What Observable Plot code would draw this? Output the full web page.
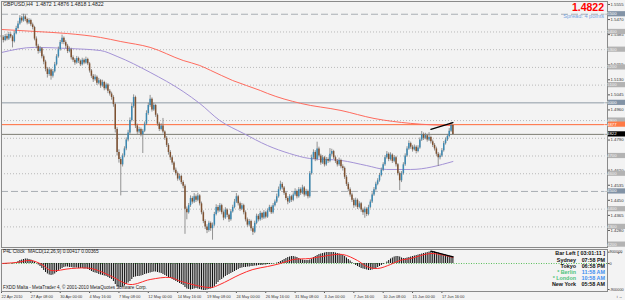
<!DOCTYPE html>
<html><head><meta charset="utf-8">
<script src="https://cdn.jsdelivr.net/npm/d3@7"></script>
<script src="https://cdn.jsdelivr.net/npm/@observablehq/plot@0.6"></script>
<style>
html,body{margin:0;padding:0;background:#f3f3f3;}
#wrap{position:relative;width:625px;height:300px;overflow:hidden;font-family:"Liberation Sans",Arial,sans-serif;}
#main{position:absolute;left:0;top:0;}
#macd{position:absolute;left:0;top:248px;}
.ov{position:absolute;white-space:nowrap;line-height:1;}
</style></head>
<body><div id="wrap">
<div id="main"></div><div id="macd"></div>
<div class="ov" style="left:3px;top:2px;font-size:5.2px;color:#222">GBPUSD,H4&nbsp; 1.4872 1.4876 1.4818 1.4822</div>
<div class="ov" style="right:21px;top:2px;font-size:10.5px;line-height:10.5px;font-weight:bold;color:#ff0000">1.4822</div>
<div class="ov" style="right:21px;top:13.5px;font-size:5.6px;color:#74a4e0">Spread: 4 points</div>
<div class="ov" style="left:3px;top:250px;font-size:4.8px;color:#222">P4L Clock</div>
<div class="ov" style="left:28px;top:250px;font-size:4.8px;color:#222">MACD(12,26,9) 0.00417 0.00365</div>
<div class="ov" style="left:3px;top:285.5px;font-size:4.6px;color:#222">FXDD Malta - MetaTrader 4, © 2001-2010 MetaQuotes Software Corp.</div>
<div id="clock" class="ov" style="right:20px;top:250px;font-size:5.4px;font-weight:bold;text-align:right;line-height:6px"></div>
</div>
<script>
// ---------- DATA ----------
const firstOpen = 1.5380;
const closes = [
1.5368,1.5352,1.5375,1.5360,1.5385,1.5372,1.5345,1.5390,1.5420,1.5445,
1.5478,1.5462,1.5485,1.5470,1.5450,1.5465,1.5440,1.5425,1.5360,1.5320,
1.5290,1.5305,1.5260,1.5230,1.5190,1.5160,1.5185,1.5150,1.5175,1.5215,
1.5260,1.5300,1.5340,1.5365,1.5340,1.5320,1.5290,1.5300,1.5255,1.5240,
1.5225,1.5250,1.5235,1.5215,1.5240,1.5225,1.5245,1.5220,1.5180,1.5150,
1.5130,1.5145,1.5110,1.5125,1.5095,1.5115,1.5080,1.5100,1.5065,1.5050,
1.5030,1.4990,1.4850,1.4720,1.4680,1.4650,1.4700,1.4740,1.4790,1.4830,
1.4900,1.4980,1.5030,1.4870,1.4835,1.4850,1.4820,1.4840,1.4880,1.4940,
1.4985,1.5020,1.4960,1.4985,1.4930,1.4880,1.4850,1.4870,1.4835,1.4800,
1.4760,1.4720,1.4690,1.4660,1.4620,1.4600,1.4570,1.4585,1.4550,1.4530,
1.4400,1.4380,1.4420,1.4460,1.4440,1.4470,1.4450,1.4475,1.4430,1.4380,
1.4330,1.4300,1.4280,1.4320,1.4290,1.4310,1.4370,1.4410,1.4390,1.4420,
1.4380,1.4350,1.4395,1.4365,1.4340,1.4385,1.4410,1.4440,1.4470,1.4430,
1.4400,1.4420,1.4380,1.4340,1.4310,1.4330,1.4290,1.4270,1.4320,1.4360,
1.4340,1.4375,1.4350,1.4380,1.4355,1.4390,1.4410,1.4380,1.4420,1.4440,
1.4470,1.4510,1.4540,1.4520,1.4490,1.4460,1.4440,1.4470,1.4450,1.4480,
1.4500,1.4470,1.4510,1.4490,1.4520,1.4480,1.4500,1.4470,1.4600,1.4690,
1.4720,1.4680,1.4740,1.4700,1.4660,1.4690,1.4650,1.4680,1.4670,1.4710,
1.4725,1.4690,1.4670,1.4650,1.4675,1.4640,1.4630,1.4580,1.4540,1.4510,
1.4480,1.4450,1.4420,1.4450,1.4410,1.4430,1.4395,1.4380,1.4400,1.4370,
1.4410,1.4440,1.4480,1.4510,1.4540,1.4560,1.4590,1.4620,1.4650,1.4690,
1.4710,1.4680,1.4705,1.4670,1.4690,1.4650,1.4600,1.4560,1.4600,1.4650,
1.4700,1.4740,1.4770,1.4750,1.4735,1.4750,1.4725,1.4745,1.4790,1.4820,
1.4800,1.4815,1.4790,1.4805,1.4780,1.4760,1.4740,1.4710,1.4690,1.4700,
1.4730,1.4770,1.4790,1.4810,1.4840,1.4872,1.4822];
const highs = [
1.5392,1.5378,1.5386,1.5388,1.5398,1.5395,1.5380,1.5402,1.5432,1.5460,
1.5492,1.5488,1.5500,1.5496,1.5478,1.5475,1.5472,1.5450,1.5432,1.5372,
1.5330,1.5318,1.5312,1.5270,1.5240,1.5200,1.5198,1.5192,1.5188,1.5228,
1.5272,1.5315,1.5352,1.5382,1.5372,1.5350,1.5330,1.5315,1.5308,1.5265,
1.5250,1.5262,1.5258,1.5242,1.5252,1.5248,1.5258,1.5252,1.5228,1.5188,
1.5160,1.5158,1.5152,1.5138,1.5132,1.5128,1.5122,1.5112,1.5108,1.5075,
1.5060,1.5040,1.4998,1.4860,1.4735,1.4692,1.4712,1.4752,1.4802,1.4845,
1.4915,1.4995,1.5045,1.5038,1.4880,1.4862,1.4858,1.4850,1.4892,1.4955,
1.4998,1.5042,1.5028,1.4998,1.4992,1.4938,1.4890,1.4882,1.4912,1.4842,
1.4810,1.4770,1.4730,1.4700,1.4668,1.4632,1.4610,1.4598,1.4592,1.4560,
1.4538,1.4412,1.4432,1.4475,1.4470,1.4488,1.4480,1.4490,1.4482,1.4440,
1.4390,1.4340,1.4312,1.4332,1.4328,1.4322,1.4382,1.4425,1.4420,1.4432,
1.4428,1.4390,1.4408,1.4402,1.4372,1.4398,1.4422,1.4455,1.4488,1.4478,
1.4440,1.4432,1.4428,1.4390,1.4350,1.4342,1.4338,1.4300,1.4332,1.4372,
1.4370,1.4388,1.4382,1.4392,1.4388,1.4402,1.4422,1.4418,1.4432,1.4452,
1.4485,1.4525,1.4558,1.4550,1.4528,1.4498,1.4470,1.4482,1.4478,1.4492,
1.4515,1.4508,1.4522,1.4520,1.4535,1.4528,1.4512,1.4508,1.4612,1.4705,
1.4735,1.4730,1.4778,1.4750,1.4710,1.4702,1.4698,1.4692,1.4690,1.4742,
1.4738,1.4732,1.4700,1.4680,1.4688,1.4682,1.4650,1.4638,1.4590,1.4550,
1.4520,1.4490,1.4460,1.4462,1.4458,1.4442,1.4438,1.4405,1.4412,1.4408,
1.4422,1.4452,1.4492,1.4522,1.4552,1.4572,1.4602,1.4632,1.4662,1.4702,
1.4725,1.4718,1.4718,1.4712,1.4702,1.4698,1.4658,1.4610,1.4612,1.4662,
1.4712,1.4752,1.4785,1.4778,1.4760,1.4762,1.4758,1.4758,1.4802,1.4838,
1.4830,1.4828,1.4822,1.4832,1.4812,1.4790,1.4770,1.4750,1.4720,1.4712,
1.4742,1.4782,1.4802,1.4822,1.4855,1.4889,1.4876];
const lows = [
1.5355,1.5338,1.5345,1.5350,1.5352,1.5362,1.5310,1.5338,1.5384,1.5412,
1.5438,1.5450,1.5455,1.5458,1.5440,1.5442,1.5430,1.5412,1.5350,1.5305,
1.5275,1.5280,1.5248,1.5215,1.5175,1.5140,1.5150,1.5128,1.5140,1.5168,
1.5208,1.5252,1.5292,1.5330,1.5328,1.5305,1.5278,1.5282,1.5242,1.5228,
1.5212,1.5218,1.5222,1.5205,1.5208,1.5215,1.5218,1.5210,1.5168,1.5138,
1.5115,1.5122,1.5098,1.5102,1.5082,1.5088,1.5068,1.5072,1.5052,1.5038,
1.5015,1.4975,1.4830,1.4700,1.4660,1.4475,1.4638,1.4690,1.4730,1.4780,
1.4822,1.4892,1.4970,1.4855,1.4822,1.4825,1.4808,1.4714,1.4832,1.4872,
1.4930,1.4975,1.4948,1.4952,1.4918,1.4868,1.4838,1.4842,1.4825,1.4788,
1.4748,1.4705,1.4675,1.4648,1.4608,1.4588,1.4558,1.4560,1.4538,1.4515,
1.4258,1.4340,1.4372,1.4410,1.4428,1.4432,1.4438,1.4442,1.4418,1.4368,
1.4318,1.4285,1.4262,1.4270,1.4275,1.4225,1.4302,1.4362,1.4378,1.4382,
1.4368,1.4335,1.4342,1.4352,1.4325,1.4332,1.4378,1.4402,1.4432,1.4418,
1.4388,1.4392,1.4368,1.4328,1.4298,1.4300,1.4275,1.4252,1.4262,1.4312,
1.4328,1.4332,1.4338,1.4342,1.4345,1.4348,1.4382,1.4370,1.4372,1.4412,
1.4432,1.4462,1.4502,1.4508,1.4478,1.4448,1.4425,1.4432,1.4438,1.4442,
1.4472,1.4458,1.4462,1.4478,1.4482,1.4468,1.4472,1.4458,1.4462,1.4592,
1.4680,1.4668,1.4672,1.4688,1.4648,1.4652,1.4638,1.4642,1.4658,1.4662,
1.4700,1.4680,1.4658,1.4638,1.4642,1.4628,1.4615,1.4568,1.4528,1.4498,
1.4468,1.4438,1.4405,1.4412,1.4398,1.4402,1.4382,1.4365,1.4349,1.4358,
1.4362,1.4402,1.4432,1.4472,1.4502,1.4532,1.4552,1.4582,1.4612,1.4642,
1.4682,1.4668,1.4672,1.4658,1.4662,1.4638,1.4588,1.4505,1.4550,1.4592,
1.4642,1.4692,1.4732,1.4738,1.4722,1.4728,1.4712,1.4718,1.4738,1.4782,
1.4788,1.4792,1.4778,1.4782,1.4768,1.4748,1.4728,1.4698,1.4641,1.4678,
1.4692,1.4722,1.4762,1.4782,1.4802,1.4832,1.4818];

// moving averages (sampled bars)
const redMAIdx = [0,18,36,54,65,81,99,108,114,126,141,145,163,185,203,223,246];
const redMAVal = [1.5414,1.5403,1.5391,1.5369,1.5346,1.5313,1.5239,1.5211,1.5183,1.5126,1.5070,1.5053,1.4997,1.4957,1.4912,1.4884,1.4872];
const purpleMAIdx = [0,18,36,54,63,81,99,108,119,132,145,157,168,185,199,210,223,246];
const purpleMAVal = [1.5284,1.5313,1.5307,1.5295,1.5262,1.5172,1.5064,1.4997,1.4900,1.4827,1.4759,1.4714,1.4686,1.4675,1.4646,1.4624,1.4624,1.4669];

// horizontal levels
const dottedLevels = [1.54,1.53,1.52,1.51,1.49,1.48,1.47,1.46,1.44,1.43];
const dashedLevels = [1.55,1.45];
const solidLevels = [1.50];
const orangeLevel = 1.4877;
const bidLevel = 1.4822;
// visible axis tick labels (those hidden under the level boxes are left out)
const priceTicks = [1.5555,1.5470,1.5385,1.5215,1.5130,1.5045,1.4960,1.4790,1.4620,1.4535,1.4450,1.4365,1.4280];
const boxLevels = [1.55,1.54,1.53,1.52,1.51,1.50,1.49,1.47,1.46,1.45,1.44,1.43,1.42,1.4877,1.4822];

// trendlines
const priceTrendIdx = [234,246];
const priceTrendVal = [1.4850,1.4889];

// MACD
const macdVals = [
-0.0009,-0.0006,-0.0006,-0.0003,0,0,-0.0003,0.0003,
0.0006,0.0012,0.0018,0.0021,0.0024,0.0027,0.0027,0.0024,0.0021,
0.0015,0.0009,0,-0.0009,-0.0018,
-0.003,-0.0042,-0.0054,-0.0063,-0.0069,-0.0072,-0.0069,-0.0063,
-0.0054,-0.0045,-0.0036,-0.003,-0.0024,-0.0021,
-0.0021,-0.0024,-0.0024,-0.0027,-0.0027,
-0.0027,-0.003,-0.003,-0.003,-0.0033,-0.0033,-0.0036,-0.0042,
-0.0048,-0.0054,-0.0057,-0.006,-0.0066,-0.0069,-0.0072,-0.0075,-0.0078,-0.0084,-0.009,
-0.0096,-0.0108,-0.0126,-0.0138,-0.0144,-0.0144,-0.0141,-0.0135,
-0.0126,-0.0117,-0.0108,-0.0096,-0.0084,-0.0081,-0.0078,-0.0078,-0.0075,-0.0072,-0.0066,-0.0063,-0.006,-0.0057,
-0.0054,-0.0051,-0.0051,-0.0054,-0.0057,
-0.006,-0.0066,-0.0072,-0.0078,-0.0084,-0.009,-0.0096,-0.0102,-0.0108,-0.0114,-0.012,
-0.0126,-0.0132,-0.0144,-0.0153,-0.0156,-0.0159,-0.0156,-0.0153,-0.015,-0.0153,-0.0156,-0.0159,-0.0162,-0.0162,-0.0159,-0.0156,-0.0153,-0.015,
-0.0138,-0.0126,-0.0114,-0.0102,-0.0096,-0.0087,-0.0078,-0.0072,-0.0066,-0.006,-0.0054,-0.0048,-0.0042,-0.0036,-0.003,
-0.0027,-0.0024,-0.0024,-0.0021,-0.0021,-0.0018,-0.0018,-0.0015,-0.0015,-0.0012,-0.0012,
-0.0012,-0.0009,-0.0009,-0.0006,-0.0006,-0.0003,-0.0003,0,0.0003,0.0006,0.0012,
0.0018,0.0024,0.003,0.0036,0.0039,0.0042,0.0042,0.0039,0.0036,0.003,0.0024,
0.0021,0.0018,0.0018,0.0018,0.0021,0.0027,0.0036,0.0042,0.0048,0.0054,0.0057,
0.006,0.0063,0.0066,0.0066,0.0066,0.0066,0.0066,0.0063,0.006,0.0057,0.0054,0.0048,0.0042,0.0033,
0.0024,0.0015,0.0006,-0.0003,-0.0012,
-0.0018,-0.0024,-0.003,-0.0033,-0.0036,-0.0039,-0.0042,-0.0042,-0.0039,-0.0036,-0.003,
-0.0024,-0.0018,-0.0012,-0.0006,0,
0.0009,0.0018,0.0027,0.0033,0.0039,0.0042,0.0042,0.0039,
0.0033,0.003,0.003,0.0033,0.0036,0.0039,
0.0042,0.0045,0.0048,0.0051,0.0054,0.0057,0.006,0.0063,0.0066,0.0069,0.0072,
0.0072,0.0069,0.0066,0.0063,0.006,
0.0057,0.0054,0.0051,0.0048,0.0045,0.0043,0.00417];
const signalIdx = [0,8,16,22,27,38,49,59,70,81,92,98,114,119,130,137,145,152,159,168,178,186,194,199,205,212,217,223,234,246];
const signalVal = [0,0.0006,0.0018,-0.0006,-0.0042,-0.003,-0.003,-0.0072,-0.0126,-0.0096,-0.0084,-0.0108,-0.0144,-0.0126,-0.0066,-0.0036,-0.0018,0,0.0024,0.003,0.0048,0.0054,0.0018,-0.0018,-0.003,-0.0006,0.0018,0.003,0.006,0.00365];
const macdTrendIdx = [234,246];
const macdTrendVal = [0.0074,0.0040];
const macdAxisTicks = [0.0068,0,-0.0156];
const macdAxisLabels = ["900000","0","-900000"];

// time axis
const dateTickIdx = [0,16,32,48,64,80,96,112,128,144,160,176,192,208,224,240];
const dateLabels = ["22 Apr 2010","27 Apr 08:00","30 Apr 00:00","4 May 16:00","7 May 08:00","12 May 00:00","14 May 16:00","19 May 08:00","24 May 00:00","26 May 16:00","31 May 08:00","3 Jun 00:00","7 Jun 16:00","10 Jun 08:00","15 Jun 00:00","17 Jun 16:00"];

// clock
const clockTitle = "Bar Left [ 03:01:11 ]";
const clockNames = ["Sydney","Tokyo","* Berlin","* London","New York"];
const clockTimes = ["07:58 PM","06:58 PM","11:58 AM","10:58 AM","05:58 AM"];

// ---------- BUILD ----------
const bars = closes.map((c,i)=>({i, open: i ? closes[i-1] : firstOpen, close: c, high: highs[i], low: lows[i]}));
const redMA = redMAIdx.map((i,k)=>({i, v: redMAVal[k]}));
const purpleMA = purpleMAIdx.map((i,k)=>({i, v: purpleMAVal[k]}));
const priceTrend = priceTrendIdx.map((i,k)=>({i, v: priceTrendVal[k]}));
const macdRows = macdVals.map((v,i)=>({i, v}));
const signalRows = signalIdx.map((i,k)=>({i, v: signalVal[k]}));
const macdTrend = macdTrendIdx.map((i,k)=>({i, v: macdTrendVal[k]}));
const dateMap = new Map(dateTickIdx.map((d,k)=>[d, dateLabels[k]]));
const macdLabMap = new Map(macdAxisTicks.map((d,k)=>[d, macdAxisLabels[k]]));

const XDOM = [0, 330.25];
const font = "Liberation Sans, Arial, sans-serif";
const bull = "#3a88b2", bear = "#7e5130";

const main = Plot.plot({
  width: 625, height: 248,
  marginLeft: 1, marginRight: 18, marginTop: 1, marginBottom: 1,
  style: {background: "transparent", fontFamily: font, fontSize: "4.3px", color: "#333"},
  x: {domain: XDOM, axis: null},
  y: {domain: [1.41837, 1.55719], axis: null},
  marks: [
    Plot.ruleY(dottedLevels, {stroke: "#b9b9b9", strokeDasharray: "1,2"}),
    Plot.ruleY(dashedLevels, {stroke: "#a8aeb3", strokeDasharray: "7,3"}),
    Plot.ruleY(solidLevels, {stroke: "#8f9ba6"}),
    Plot.ruleY([orangeLevel], {stroke: "#ff6a3a"}),
    Plot.ruleY([bidLevel], {stroke: "#7d7d72"}),
    Plot.line(redMA, {x: "i", y: "v", stroke: "#ff6b5e", strokeWidth: 1, curve: "monotone-x"}),
    Plot.line(purpleMA, {x: "i", y: "v", stroke: "#a493d6", strokeWidth: 1, curve: "monotone-x"}),
    Plot.ruleX(bars, {x: "i", y1: "low", y2: "high", stroke: "#7a7a7a", strokeWidth: 0.8}),
    Plot.ruleX(bars, {filter: d => d.close >= d.open, x: "i", y1: "open", y2: "close", stroke: bull, strokeWidth: 1.5}),
    Plot.ruleX(bars, {filter: d => d.close < d.open, x: "i", y1: "open", y2: "close", stroke: bear, strokeWidth: 1.5}),
    Plot.line(priceTrend, {x: "i", y: "v", stroke: "#000", strokeWidth: 1.3}),
    Plot.axisY({anchor: "right", ticks: priceTicks, tickFormat: d3.format(".4f"), tickSize: 2, tickPadding: 1, stroke: "#555", fill: "#333"}),
    Plot.frame({stroke: "#8a8a8a"})
  ]
});
document.getElementById("main").append(main);

// highlighted level labels on the price axis, placed with the chart's own y scale
{
  const ys = main.scale("y");
  const yf = ys.apply ? (v => ys.apply(v)) : d3.scaleLinear(ys.domain, ys.range);
  const svg = d3.select(main);
  const g = svg.append("g").attr("font-family", font).attr("font-size", "4.3px");
  boxLevels.forEach(v => {
    const y = yf(v);
    let bg = "#b3b3b3", fg = "#f4f4f4";
    if (v === bidLevel) { bg = "#000"; fg = "#fff"; }
    else if (v === orangeLevel) { bg = "#ff7a45"; fg = "#fff"; }
    else if (v === 1.55 || v === 1.50 || v === 1.45) { bg = "#8293a6"; fg = "#fff"; }
    g.append("rect").attr("x", 608).attr("y", y - 2.6).attr("width", 17).attr("height", 5.2).attr("fill", bg);
    g.append("text").attr("x", 610).attr("y", y).attr("dy", "0.35em").attr("fill", fg).text(d3.format(".4f")(v));
  });
}

const macd = Plot.plot({
  width: 625, height: 52,
  marginLeft: 1, marginRight: 18, marginTop: 1, marginBottom: 9,
  style: {background: "transparent", fontFamily: font, fontSize: "3.9px", color: "#333"},
  x: {domain: XDOM, axis: null},
  y: {domain: [-0.0168, 0.0084], axis: null},
  marks: [
    Plot.ruleY([0], {stroke: "#5cbf5c", strokeDasharray: "1,1.5"}),
    Plot.ruleX(macdRows, {x: "i", y1: 0, y2: "v", stroke: "#111", strokeWidth: 1}),
    Plot.line(signalRows, {x: "i", y: "v", stroke: "#ff2a2a", strokeWidth: 1, curve: "catmull-rom"}),
    Plot.line(macdTrend, {x: "i", y: "v", stroke: "#000", strokeWidth: 1.2}),
    Plot.axisY({anchor: "right", ticks: macdAxisTicks, tickFormat: d => macdLabMap.get(d), tickSize: 1.5, tickPadding: 0.5, fontSize: 3.9, stroke: "#555", fill: "#333"}),
    Plot.axisX({anchor: "bottom", ticks: dateTickIdx, tickFormat: d => dateMap.get(d), tickSize: 2, tickPadding: 1.3, textAnchor: "start", stroke: "#555", fill: "#333"}),
    Plot.frame({stroke: "#8a8a8a"})
  ]
});
document.getElementById("macd").append(macd);

// clock panel
{
  const box = document.getElementById("clock");
  const t = document.createElement("div");
  t.textContent = clockTitle; t.style.color = "#111"; t.style.marginBottom = "1px";
  box.append(t);
  clockNames.forEach((n, k) => {
    const row = document.createElement("div");
    const green = n.startsWith("*");
    const a = document.createElement("span");
    a.textContent = n; a.style.color = green ? "#4cc27a" : "#111";
    a.style.display = "inline-block"; a.style.width = "40px"; a.style.textAlign = "right";
    const b = document.createElement("span");
    b.textContent = clockTimes[k]; b.style.color = green ? "#3d8ef0" : "#111";
    b.style.display = "inline-block"; b.style.width = "25px"; b.style.textAlign = "right"; b.style.marginLeft = "4px";
    row.append(a, b);
    box.append(row);
  });
}
</script>
</body></html>
